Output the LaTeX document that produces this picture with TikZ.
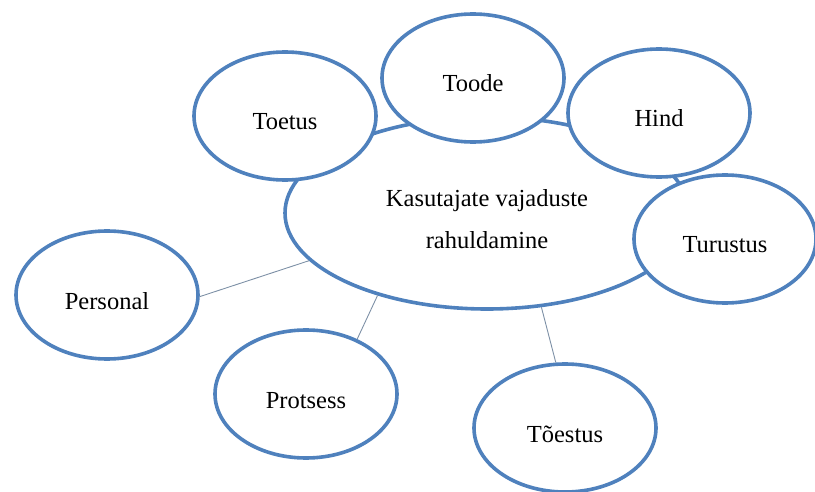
\documentclass[tikz,border=0pt]{standalone}
\usepackage{fontspec}
\setmainfont{Liberation Serif}
\usetikzlibrary{shapes.geometric}
\definecolor{ringblue}{HTML}{4F81BD}
\definecolor{linkgray}{HTML}{7D90A6}

\begin{document}
\begin{tikzpicture}[x=1pt,y=-1pt,
  osa/.style={ellipse, draw=ringblue, line width=3.6pt, fill=white,
    minimum width=182pt, minimum height=128pt, inner sep=0pt,
    font=\fontsize{24.5}{29}\selectfont, text height=28pt, text depth=0pt},
  niit/.style={draw=linkgray, line width=0.9pt}]
\useasboundingbox (0,0) rectangle (815,492);
% Central ellipse, partly hidden by the others
\node[ellipse, draw=ringblue, line width=3.6pt, minimum width=404pt, minimum height=192pt,
  align=center, font=\fontsize{24.5}{43}\selectfont, text height=72pt, text depth=0pt]
  (kesk) at (487,213) {Kasutajate vajaduste\\rahuldamine};
% Outer ellipses
\node[osa] (toetus) at (285,116) {Toetus};
\node[osa] (toode) at (473,78) {Toode};
\node[osa] (hind) at (659,113) {Hind};
\node[osa] (turustus) at (725,239) {Turustus};
\node[osa] (personal) at (107,295) {Personal};
\node[osa] (protsess) at (306,394) {Protsess};
\node[osa] (toestus) at (565,428) {Tõestus};
% Thin links to the centre
\draw[niit] (personal.-1) -- (kesk.195.6);
\draw[niit] (protsess.47.6) -- (kesk.217.6);
\draw[niit] (toestus.98.6) -- (kesk.-60.8);
\end{tikzpicture}
\end{document}
